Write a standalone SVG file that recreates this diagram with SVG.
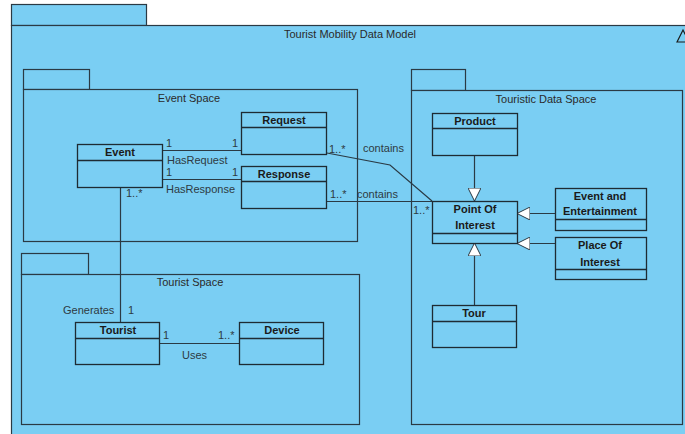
<svg xmlns="http://www.w3.org/2000/svg" width="685" height="434" viewBox="0 0 685 434">
  <style>
    .pkg { fill: #7ACEF3; stroke: #2a3a44; stroke-width: 1.2; }
    .cls { fill: #7ACEF3; stroke: #1e2b33; stroke-width: 1.3; }
    .sep { stroke: #1e2b33; stroke-width: 1.3; fill: none; }
    .edge { stroke: #2a3a44; stroke-width: 1.2; fill: none; }
    .title { font-family: "Liberation Sans", Arial, sans-serif; font-size: 11px; fill: #2a2a2a; text-anchor: middle; }
    .name { font-family: "Liberation Sans", Arial, sans-serif; font-size: 11px; font-weight: bold; fill: #1a1a1a; text-anchor: middle; }
    .lbl { font-family: "Liberation Sans", Arial, sans-serif; font-size: 11px; fill: #2e3a42; }
  </style>
  <defs>
    <marker id="gen" viewBox="0 0 13 13" markerWidth="13" markerHeight="13" markerUnits="userSpaceOnUse" refX="13" refY="6.5" orient="auto">
      <path d="M0,0 L13,6.5 L0,13 Z" fill="#ffffff" stroke="#2a3a44" stroke-width="1"/>
    </marker>
  </defs>

  <rect x="0" y="0" width="685" height="434" fill="#ffffff"/>

  <!-- outer package -->
  <g id="pkg-tourist-mobility">
    <rect class="pkg" x="11.5" y="4.5" width="135" height="21"/>
    <rect class="pkg" x="11.5" y="25.5" width="700" height="450"/>
    <text class="title" x="350" y="38">Tourist Mobility Data Model</text>
    <polygon points="677,42 683,30 689,42" fill="none" stroke="#1a1a1a" stroke-width="1.2"/>
  </g>

  <g id="pkg-event-space">
    <rect class="pkg" x="23.5" y="69.5" width="66" height="20"/>
    <rect class="pkg" x="23.5" y="89.5" width="334" height="152"/>
    <text class="title" x="189" y="102">Event Space</text>
  </g>

  <g id="pkg-touristic-data-space">
    <rect class="pkg" x="411.5" y="69.5" width="54" height="21"/>
    <rect class="pkg" x="411.5" y="90.5" width="271" height="334"/>
    <text class="title" x="546" y="103">Touristic Data Space</text>
  </g>

  <g id="pkg-tourist-space">
    <rect class="pkg" x="21.5" y="253.5" width="67" height="21"/>
    <rect class="pkg" x="21.5" y="274.5" width="338" height="150"/>
    <text class="title" x="190" y="286">Tourist Space</text>
  </g>

  <!-- associations and generalizations -->
  <g id="connectors">
    <line class="edge" x1="163" y1="150.5" x2="242" y2="150.5"/>
    <text class="lbl" x="166" y="147">1</text>
    <text class="lbl" x="232" y="147">1</text>
    <text class="lbl" x="167" y="164">HasRequest</text>

    <line class="edge" x1="163" y1="179.5" x2="242" y2="179.5"/>
    <text class="lbl" x="166" y="176">1</text>
    <text class="lbl" x="232" y="176">1</text>
    <text class="lbl" x="166" y="193">HasResponse</text>

    <line class="edge" x1="120.5" y1="187" x2="120.5" y2="322"/>
    <text class="lbl" x="126" y="197">1..*</text>
    <text class="lbl" x="63" y="314">Generates</text>
    <text class="lbl" x="128" y="314">1</text>

    <line class="edge" x1="160" y1="343.5" x2="240" y2="343.5"/>
    <text class="lbl" x="163" y="339">1</text>
    <text class="lbl" x="218" y="339">1..*</text>
    <text class="lbl" x="182" y="359">Uses</text>

    <polyline class="edge" points="327,153 390,165 432,201"/>
    <text class="lbl" x="329" y="153">1..*</text>
    <text class="lbl" x="363" y="152">contains</text>

    <line class="edge" x1="327" y1="201.5" x2="432" y2="201.5"/>
    <text class="lbl" x="330" y="198">1..*</text>
    <text class="lbl" x="357" y="198">contains</text>
    <text class="lbl" x="413" y="214">1..*</text>

    <line class="edge" x1="474.5" y1="155" x2="474.5" y2="201" marker-end="url(#gen)"/>
    <line class="edge" x1="555" y1="213.5" x2="517" y2="213.5" marker-end="url(#gen)"/>
    <line class="edge" x1="555" y1="243.5" x2="517" y2="243.5" marker-end="url(#gen)"/>
    <line class="edge" x1="474.5" y1="305" x2="474.5" y2="243" marker-end="url(#gen)"/>
  </g>

  <!-- classes -->
  <g id="cls-event">
    <rect class="cls" x="77.5" y="144.5" width="85" height="43"/>
    <line class="sep" x1="77.5" y1="160.5" x2="162.5" y2="160.5"/>
    <text class="name" x="120" y="156">Event</text>
  </g>

  <g id="cls-request">
    <rect class="cls" x="241.5" y="112.5" width="85" height="42"/>
    <line class="sep" x1="241.5" y1="127.5" x2="326.5" y2="127.5"/>
    <text class="name" x="284" y="124">Request</text>
  </g>

  <g id="cls-response">
    <rect class="cls" x="241.5" y="166.5" width="85" height="42"/>
    <line class="sep" x1="241.5" y1="181.5" x2="326.5" y2="181.5"/>
    <text class="name" x="284" y="178">Response</text>
  </g>

  <g id="cls-product">
    <rect class="cls" x="432.5" y="113.5" width="85" height="42"/>
    <line class="sep" x1="432.5" y1="128.5" x2="517.5" y2="128.5"/>
    <text class="name" x="475" y="125">Product</text>
  </g>

  <g id="cls-point-of-interest">
    <rect class="cls" x="432.5" y="201.5" width="85" height="42"/>
    <line class="sep" x1="432.5" y1="233.5" x2="517.5" y2="233.5"/>
    <text class="name" x="475" y="213">Point Of</text>
    <text class="name" x="475" y="229">Interest</text>
  </g>

  <g id="cls-event-entertainment">
    <rect class="cls" x="555.5" y="188.5" width="91" height="42"/>
    <line class="sep" x1="555.5" y1="219.5" x2="646.5" y2="219.5"/>
    <text class="name" x="600" y="200">Event and</text>
    <text class="name" x="600" y="215">Entertainment</text>
  </g>

  <g id="cls-place-of-interest">
    <rect class="cls" x="555.5" y="237.5" width="91" height="42"/>
    <line class="sep" x1="555.5" y1="269.5" x2="646.5" y2="269.5"/>
    <text class="name" x="600" y="249">Place Of</text>
    <text class="name" x="600" y="266">Interest</text>
  </g>

  <g id="cls-tour">
    <rect class="cls" x="432.5" y="305.5" width="84" height="42"/>
    <line class="sep" x1="432.5" y1="321.5" x2="516.5" y2="321.5"/>
    <text class="name" x="474" y="317">Tour</text>
  </g>

  <g id="cls-tourist">
    <rect class="cls" x="75.5" y="322.5" width="84" height="42"/>
    <line class="sep" x1="75.5" y1="338.5" x2="159.5" y2="338.5"/>
    <text class="name" x="118" y="334">Tourist</text>
  </g>

  <g id="cls-device">
    <rect class="cls" x="239.5" y="322.5" width="84" height="42"/>
    <line class="sep" x1="239.5" y1="338.5" x2="323.5" y2="338.5"/>
    <text class="name" x="282" y="334">Device</text>
  </g>
</svg>
